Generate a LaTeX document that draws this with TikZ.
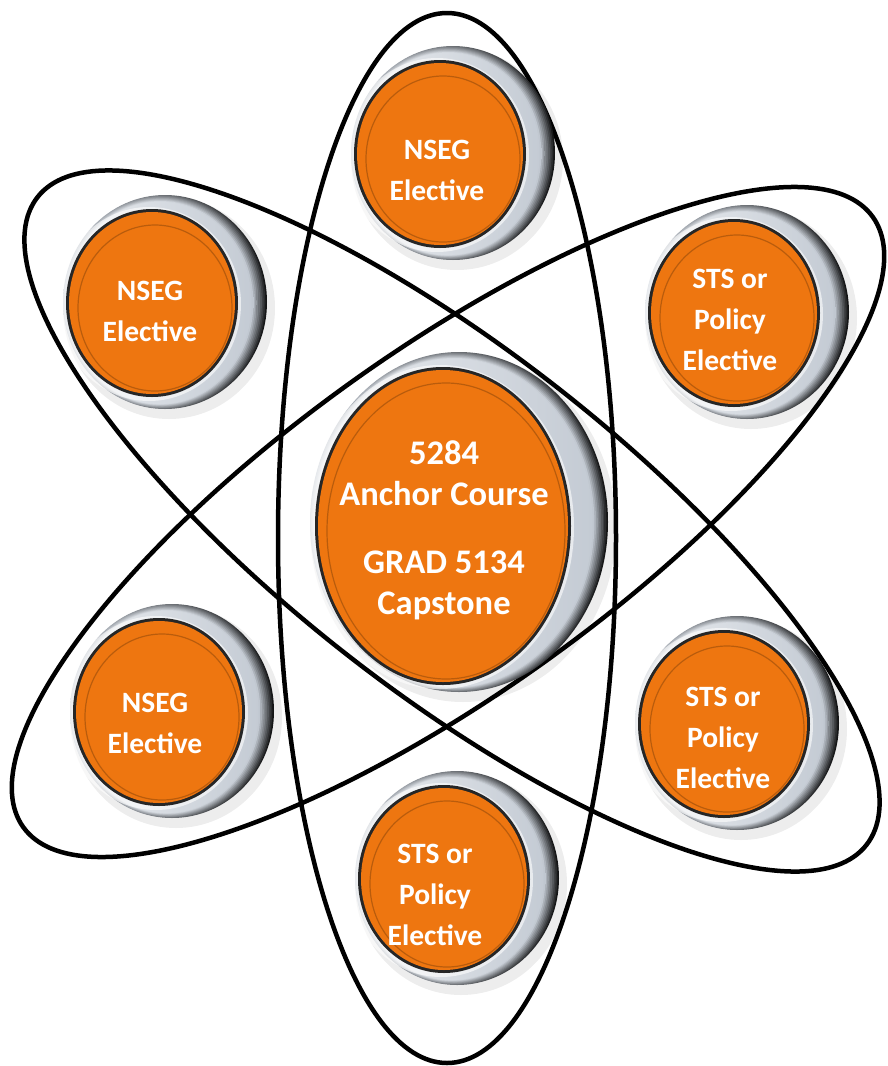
\documentclass[tikz,border=0pt]{standalone}
\usepackage{fontspec}
\setmainfont{Carlito}
\usetikzlibrary{shapes.geometric}
\definecolor{btnorange}{RGB}{238,118,16}
\definecolor{silver}{RGB}{196,203,212}
\tikzset{
  orbit/.style={draw=black, line width=4.5pt},
  btntext/.style={text=white, font=\bfseries\fontsize{29.5}{41}\selectfont, align=center, inner sep=0pt},
  bigtext/.style={text=white, font=\bfseries\fontsize{34.5}{41}\selectfont, align=center, inner sep=0pt},
}
% #1,#2 face centre; #3,#4 face radii; #5,#6 ring offset; #7,#8 ring radii
\newcommand\coursebtn[8]{%
  \coordinate (bf) at (#1,#2);
  \coordinate (br) at ({#1+#5},{#2+#6});
  \fill[black, opacity=0.07] ([shift={(4,6)}]br) ellipse [x radius={#7+4}, y radius={#8+4}];
  \foreach \i in {0,...,9}{%
    \pgfmathtruncatemacro\rc{max(0,90-11*\i)}%
    \pgfmathtruncatemacro\lc{100-7*\i}%
    \shade[left color=silver!\lc!white, right color=black!\rc!silver]
      ([shift={({-0.6*\i},{0.1*\i})}]br) ellipse [x radius={#7-1.1*\i}, y radius={#8-0.65*\i}];
  }
  \fill[white, opacity=0.6] ([shift={(-3,1)}]bf) ellipse [x radius={#3+9}, y radius={#4+6}];
  \fill[black!85] (bf) ellipse [x radius={#3+3}, y radius={#4+3}];
  \fill[btnorange] (bf) ellipse [x radius=#3, y radius=#4];
  \draw[btnorange!60!black, line width=1.2pt, opacity=0.55] ([shift={(3,5)}]bf) ellipse [x radius={#3-6}, y radius={#4-8}];
}
\begin{document}
\begin{tikzpicture}[x=1pt,y=-1pt]
\useasboundingbox (0,0) rectangle (888,1066);
\fill[white] (0,0) rectangle (888,1066);
% orbits
\draw[orbit] (447,538) ellipse [x radius=169, y radius=525];
\draw[orbit, rotate around={-38:(452,521)}] (452,521) ellipse [x radius=526, y radius=170];
\draw[orbit, rotate around={35.7:(448,522)}] (448,522) ellipse [x radius=523, y radius=170];
% buttons
\coursebtn{440}{154}{83}{91}{13}{-1}{102}{107}
\coursebtn{152}{303}{83}{91}{13}{-1}{102}{107}
\coursebtn{734}{313}{83}{91}{13}{-1}{102}{107}
\coursebtn{159}{712}{83}{91}{13}{-1}{102}{107}
\coursebtn{724}{724}{83}{91}{13}{-1}{102}{107}
\coursebtn{444}{879}{83}{91}{13}{-1}{102}{107}
\coursebtn{443}{526}{125}{156}{16}{-4}{149}{170}
% labels
\node[btntext] (top) at (437,170) {NSEG\\Elective};
\node[btntext] (ul) at (150,311) {NSEG\\Elective};
\node[btntext] (ur) at (730,320) {STS or\\Policy\\Elective};
\node[btntext] (ll) at (155,723) {NSEG\\Elective};
\node[btntext] (lr) at (723,738) {STS or\\Policy\\Elective};
\node[btntext] (bot) at (435,895) {STS or\\Policy\\Elective};
\node[bigtext] (core) at (444,530) {5284\\Anchor Course\\[27pt]GRAD 5134\\Capstone};
\end{tikzpicture}
\end{document}
